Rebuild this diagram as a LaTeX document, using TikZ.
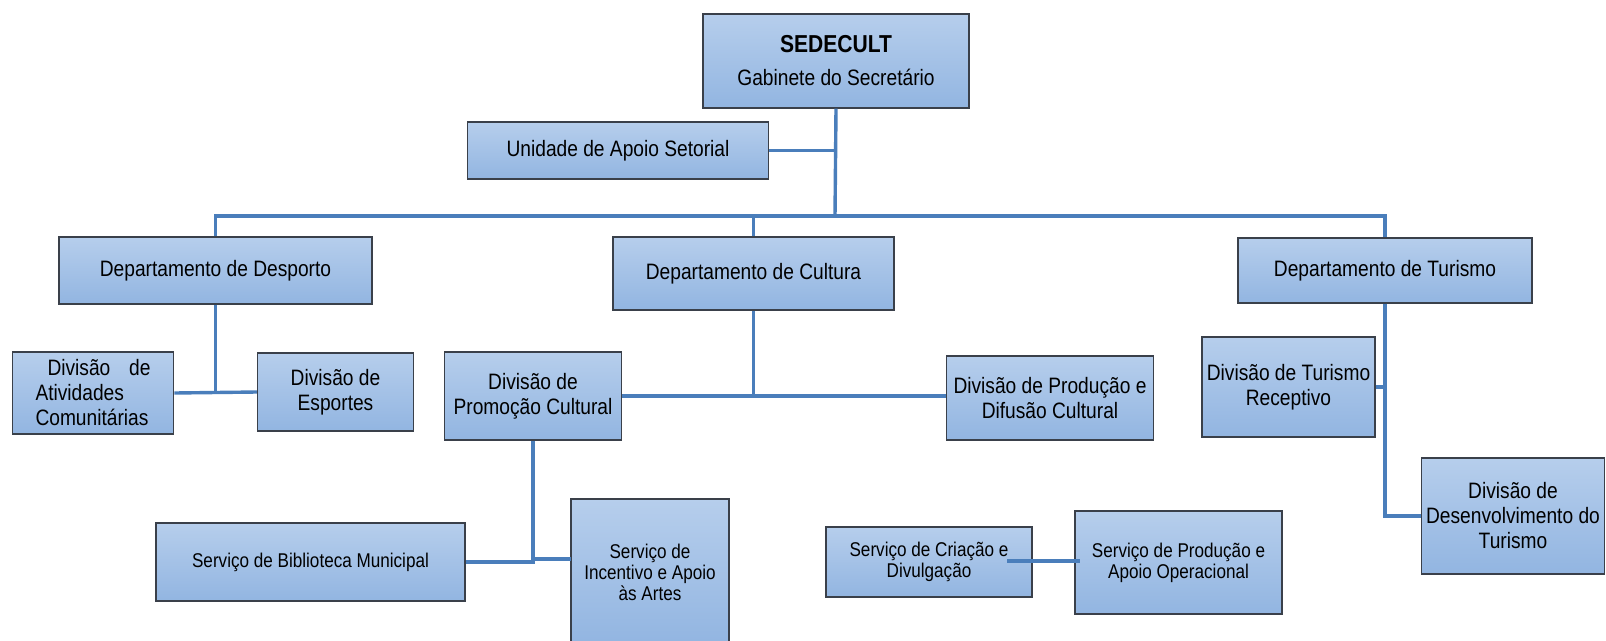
\documentclass[tikz,border=0pt]{standalone}
\usepackage{fontspec}
\setmainfont[FakeStretch=0.86]{Liberation Sans}
\usetikzlibrary{calc}
\definecolor{boxtop}{HTML}{B6CEEC}
\definecolor{boxbot}{HTML}{92B5E1}
\definecolor{boxline}{HTML}{3A404A}
\definecolor{linkcol}{HTML}{4A7EBB}
\newcommand\fbig{\fontsize{22.3}{25}\selectfont}
\newcommand\fsmall{\fontsize{19.9}{21}\selectfont}
\begin{document}
\begin{tikzpicture}[x=1pt,y=-1pt,
  box/.style={draw=boxline, line width=1.3pt, top color=boxtop, bottom color=boxbot,
    inner sep=0pt, align=center, font=\fbig},
  sbox/.style={box, font=\fsmall},
  conn/.style={draw=linkcol, line width=3.4pt}]
\useasboundingbox (0,0) rectangle (1606,640);
\clip (0,0) rectangle (1606,640);
% boxes
\node[box, minimum width=266pt, minimum height=94pt] (sede) at (836,61)
  {{\fontsize{24.5}{25}\selectfont\bfseries SEDECULT}\\[8pt]Gabinete do Secretário};
\node[box, minimum width=301pt, minimum height=57pt] (unid) at (618,150.5) {Unidade de Apoio Setorial};
\node[box, minimum width=313pt, minimum height=67pt] (desp) at (215.5,270.5) {Departamento de Desporto};
\node[box, minimum width=281pt, minimum height=73pt] (cult) at (753.5,273.5) {Departamento de Cultura};
\node[box, minimum width=294pt, minimum height=65pt] (turi) at (1385,270.5) {Departamento de Turismo};
\node[box, minimum width=161.5pt, minimum height=82pt, text width=115pt, align=left] (ativ) at (93,393)
  {\hspace*{12pt}Divisão\hfill de\\Atividades\\Comunitárias};
\node[box, minimum width=156pt, minimum height=78pt] (espo) at (335.5,392) {Divisão de\\Esportes};
\node[box, minimum width=176.5pt, minimum height=88pt] (prom) at (533,396) {Divisão de\\Promoção Cultural};
\node[box, minimum width=207pt, minimum height=84pt] (difu) at (1050,398) {Divisão de Produção e\\Difusão Cultural};
\node[box, minimum width=173pt, minimum height=100pt] (rece) at (1288.5,387) {Divisão de Turismo\\Receptivo};
\node[box, minimum width=183pt, minimum height=116pt] (dese) at (1513,516) {Divisão de\\Desenvolvimento do\\Turismo};
\node[sbox, minimum width=309pt, minimum height=78pt] (bibl) at (310.5,562) {Serviço de Biblioteca Municipal};
\node[sbox, minimum width=158pt, minimum height=146pt] (ince) at (650,572) {Serviço de\\Incentivo e Apoio\\às Artes};
\node[sbox, minimum width=206pt, minimum height=70pt] (crea) at (929,562) {Serviço de Criação e\\Divulgação};
\node[sbox, minimum width=207pt, minimum height=103pt] (apoi) at (1178.5,562.5) {Serviço de Produção e\\Apoio Operacional};
% junction points
\coordinate (busc) at (835,216);
\coordinate (incin) at (571,559);
\coordinate (creaout) at (1007,561);
\coordinate (apoiin) at (1080,561);
% connectors
\draw[conn] (sede.south) -- (busc);
\draw[conn] (unid.east) -- (unid.east -| busc);
\draw[conn] (desp.north) -- (desp.north |- busc) -- (turi.north |- busc) -- (turi.north);
\draw[conn] (cult.north) -- (cult.north |- busc);
\draw[conn] (desp.south) -- (desp.south |- ativ.east);
\draw[conn] (ativ.east) -- (espo.west);
\draw[conn] (cult.south) -- (cult.south |- prom.east);
\draw[conn] (prom.east) -- (difu.west |- prom.east);
\draw[conn] (turi.south) -- (turi.south |- dese.west) -- (dese.west);
\draw[conn] (rece.east) -- (rece.east -| turi.south);
\draw[conn] (prom.south) -- (prom.south |- bibl.east) -- (bibl.east);
\draw[conn] (prom.south |- incin) -- (incin);
\draw[conn] (creaout) -- (apoiin);
\end{tikzpicture}
\end{document}
